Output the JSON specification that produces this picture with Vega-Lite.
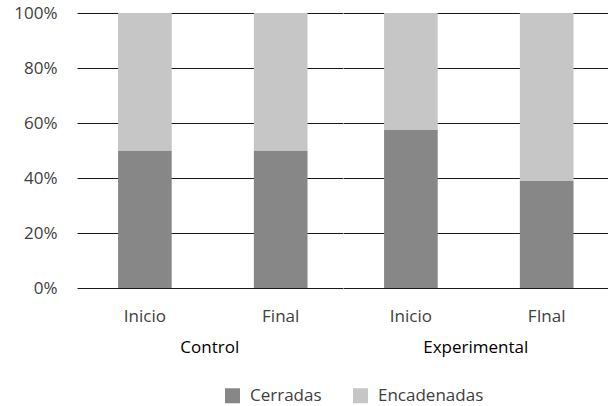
{
  "$schema": "https://vega.github.io/schema/vega-lite/v6.json",
  "background": "white",
  "padding": {"left": 5, "top": 4, "right": 0, "bottom": 44},
  "data": {
    "values": [
      {"group": "Control", "phase": "Inicio", "type": "Cerradas", "value": 50},
      {"group": "Control", "phase": "Inicio", "type": "Encadenadas", "value": 50},
      {"group": "Control", "phase": "Final", "type": "Cerradas", "value": 50},
      {"group": "Control", "phase": "Final", "type": "Encadenadas", "value": 50},
      {"group": "Experimental", "phase": "Inicio", "type": "Cerradas", "value": 57.5},
      {"group": "Experimental", "phase": "Inicio", "type": "Encadenadas", "value": 42.5},
      {"group": "Experimental", "phase": "FInal", "type": "Cerradas", "value": 38.9},
      {"group": "Experimental", "phase": "FInal", "type": "Encadenadas", "value": 61.1}
    ]
  },
  "facet": {
    "column": {
      "field": "group",
      "type": "nominal",
      "header": {
        "title": null,
        "labelOrient": "bottom",
        "labelFont": "Open Sans",
        "labelFontSize": 17,
        "labelColor": "#000000",
        "labelPadding": 16
      }
    }
  },
  "spacing": 0,
  "resolve": {"scale": {"x": "independent"}},
  "spec": {
    "width": 265.5,
    "height": 275,
    "mark": {"type": "bar"},
    "encoding": {
      "x": {
        "field": "phase",
        "type": "nominal",
        "sort": ["Inicio", "Final", "FInal"],
        "scale": {"paddingInner": 0.605, "paddingOuter": 0.28, "align": 0.54},
        "axis": {
          "title": null,
          "labelAngle": 0,
          "ticks": false,
          "domain": false,
          "labelPadding": 20,
          "labelFont": "Open Sans",
          "labelFontSize": 17,
          "labelColor": "#404040"
        }
      },
      "y": {
        "field": "value",
        "type": "quantitative",
        "stack": "normalize",
        "scale": {"domain": [0, 1]},
        "axis": {
          "title": null,
          "format": ".0%",
          "values": [0, 0.2, 0.4, 0.6, 0.8, 1],
          "ticks": false,
          "domain": false,
          "labelPadding": 20,
          "minExtent": 72,
          "labelFont": "Open Sans",
          "labelFontSize": 17,
          "labelColor": "#404040",
          "gridColor": "#1a1a1a",
          "gridWidth": 1,
          "gridOpacity": 1
        }
      },
      "order": {"field": "type", "sort": "ascending"},
      "color": {
        "field": "type",
        "type": "nominal",
        "scale": {"domain": ["Cerradas", "Encadenadas"], "range": ["#878787", "#c6c6c6"]},
        "legend": {
          "title": null,
          "orient": "none",
          "legendX": 147,
          "legendY": 374,
          "direction": "horizontal",
          "symbolType": "square",
          "symbolSize": 225,
          "symbolStrokeWidth": 0,
          "symbolOpacity": 1,
          "labelFont": "Open Sans",
          "labelFontSize": 17,
          "labelColor": "#404040",
          "labelOffset": 9,
          "columnPadding": 30
        }
      }
    }
  },
  "config": {"view": {"stroke": null}}
}
